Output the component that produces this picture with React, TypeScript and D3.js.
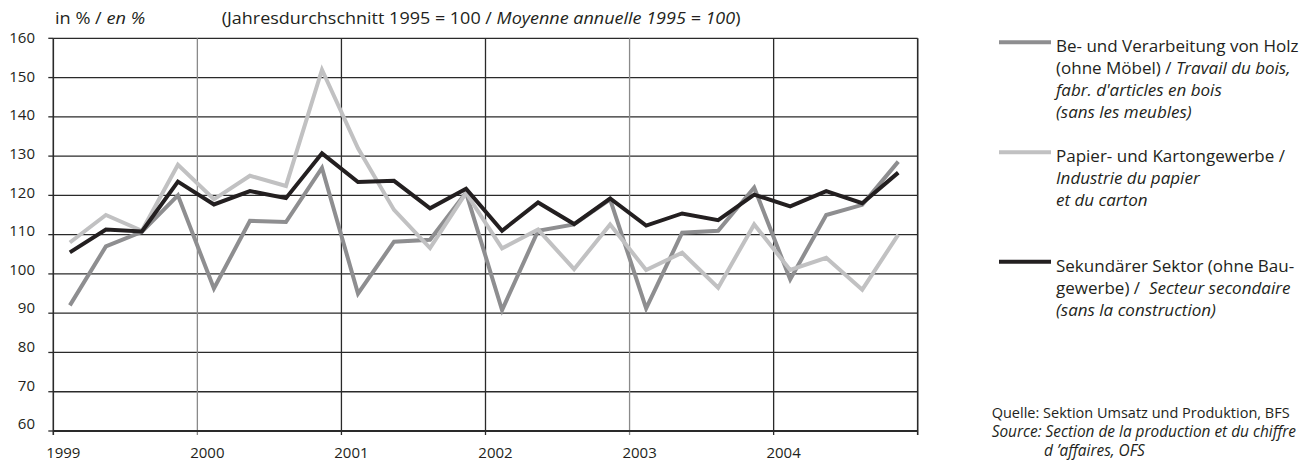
import React from "react";
import * as d3 from "d3";

const years = [1999, 2000, 2001, 2002, 2003, 2004];
const quarters = ["Q1", "Q2", "Q3", "Q4"];
const yTicks = [60, 70, 80, 90, 100, 110, 120, 130, 140, 150, 160];
const xTickYears = [1999, 2000, 2001, 2002, 2003, 2004, 2005];
const xLabelYears = [1999, 2000, 2001, 2002, 2003, 2004];

// Be- und Verarbeitung von Holz
const holz = [92, 107, 110.7, 120, 96.3, 113.5, 113.2, 127, 95, 108.2, 108.7, 120.7, 90.8, 111, 112.6, 119, 91.2, 110.5, 111, 122, 98.6, 115, 117.6, 128.6];
// Papier- und Kartongewerbe
const papier = [108, 115, 111, 127.8, 119, 125, 122.4, 152, 132, 116.3, 106.6, 120.6, 106.5, 111.3, 101.2, 112.6, 101, 105.4, 96.5, 112.6, 101, 104.1, 96, 110];
// Sekundärer Sektor (ohne Baugewerbe)
const sektor = [105.5, 111.3, 110.8, 123.5, 117.7, 121.1, 119.3, 130.7, 123.4, 123.7, 116.7, 121.7, 111, 118.2, 112.7, 119.2, 112.3, 115.4, 113.7, 120.2, 117.2, 121.1, 118, 125.8];

const periods = years.flatMap((y) => quarters.map((q, i) => ({ year: y, q: i })));

const FONT = "'Open Sans', sans-serif";

export default function App() {
  const left = 53.3, right = 917.7, top = 38.3, bottom = 431;
  const x = d3.scaleLinear().domain([1999, 2005]).range([left, right]);
  const y = d3.scaleLinear().domain([60, 160]).range([bottom, top]);
  const yLab = d3.scaleLinear().domain([60, 160]).range([424, 38]);
  const px = (i: number) => x(periods[i].year + 0.115 + periods[i].q * 0.25);
  const line = d3.line<number>().x((_, i) => px(i)).y((v) => y(v));

  const series = [
    { data: holz, color: "#8e8e90" },
    { data: papier, color: "#c1c1c2" },
    { data: sektor, color: "#231f20" },
  ];
  const grayYears = [2000, 2003];

  const legend = [
    { color: "#8e8e90", y: 42.3, lines: [[["Be- und Verarbeitung von Holz", false]], [["(ohne Möbel) / ", false], ["Travail du bois,", true]], [["fabr. d'articles en bois", true]], [["(sans les meubles)", true]]] },
    { color: "#c1c1c2", y: 152.3, lines: [[["Papier- und Kartongewerbe /", false]], [["Industrie du papier", true]], [["et du carton", true]]] },
    { color: "#231f20", y: 261.7, lines: [[["Sekundärer Sektor (ohne Bau-", false]], [["gewerbe) /  ", false], ["Secteur secondaire", true]], [["(sans la construction)", true]]] },
  ] as { color: string; y: number; lines: [string, boolean][][] }[];

  return (
    <svg width={1314} height={466} style={{ position: "absolute", left: 0, top: 0, background: "#fff" }} fontFamily={FONT}>
      {/* horizontal gridlines */}
      {yTicks.map((t) => (
        <g key={"h" + t}>
          <line x1={left} x2={right} y1={y(t)} y2={y(t)} stroke="#2a2a2a" strokeWidth={1.3} />
          <line x1={left - 5} x2={left} y1={y(t)} y2={y(t)} stroke="#2a2a2a" strokeWidth={1.3} />
          <text x={35} y={yLab(t)} dy="0.35em" textAnchor="end" fontSize={15} fill="#231f20">{t}</text>
        </g>
      ))}
      {/* vertical gridlines */}
      {xTickYears.map((yr) => (
        <g key={"v" + yr}>
          <line x1={x(yr)} x2={x(yr)} y1={top} y2={bottom + 4} stroke={grayYears.includes(yr) ? "#8a8a8a" : "#2a2a2a"} strokeWidth={yr === 1999 || yr === 2005 ? 1.6 : 1.3} />
        </g>
      ))}
      {xLabelYears.map((yr) => (
        <text key={"xl" + yr} x={x(yr) + 10} y={458} textAnchor="middle" fontSize={15} fill="#231f20">{yr}</text>
      ))}
      <line x1={left} x2={right} y1={bottom} y2={bottom} stroke="#2a2a2a" strokeWidth={1.8} />

      {/* series */}
      {series.map((s, i) => (
        <path key={"s" + i} d={line(s.data) || ""} fill="none" stroke={s.color} strokeWidth={4} strokeLinejoin="miter" strokeMiterlimit={3} />
      ))}

      {/* titles */}
      <text transform="translate(55,24) scale(1.1,1)" fontSize={16.5} fill="#231f20">in % / <tspan fontStyle="italic">en %</tspan></text>
      <text transform="translate(221.7,24) scale(1.09,1)" fontSize={16.5} fill="#231f20">(Jahresdurchschnitt 1995 = 100 / <tspan fontStyle="italic">Moyenne annuelle 1995 = 100</tspan>)</text>

      {/* legend */}
      {legend.map((lg, i) => (
        <g key={"lg" + i}>
          <line x1={999} x2={1051} y1={lg.y} y2={lg.y} stroke={lg.color} strokeWidth={4} />
          {lg.lines.map((ln, j) => (
            <text key={j} x={1056} y={lg.y + 10 + j * 22} fontSize={17} fill="#231f20" style={{ whiteSpace: "pre" }}>
              {ln.map(([s, it], k) => (
                <tspan key={k} fontStyle={it ? "italic" : "normal"}>{s}</tspan>
              ))}
            </text>
          ))}
        </g>
      ))}

      {/* source */}
      <text x={991.7} y={418} fontSize={14.5} fill="#231f20">Quelle: Sektion Umsatz und Produktion, BFS</text>
      <text x={991.7} y={437} fontSize={15.4} fill="#231f20" fontStyle="italic">Source: Section de la production et du chiffre</text>
      <text x={1044} y={456} fontSize={15.4} fill="#231f20" fontStyle="italic">d ’affaires, OFS</text>
    </svg>
  );
}
